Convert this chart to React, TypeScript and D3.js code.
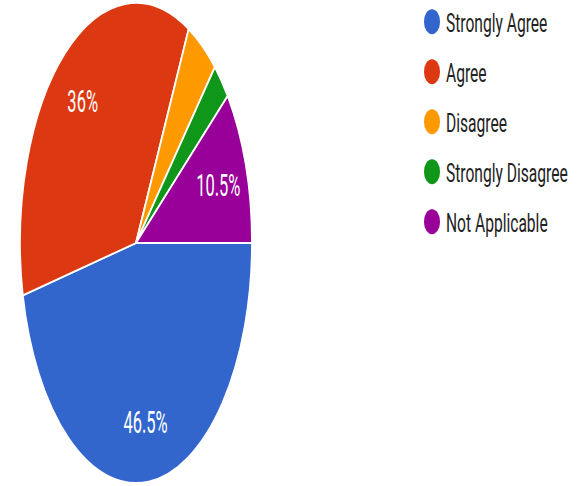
import React, { useEffect, useRef } from 'react';
import * as d3 from 'd3';

const categories = ['Strongly Agree', 'Agree', 'Disagree', 'Strongly Disagree', 'Not Applicable'];
const values = [46.5, 36, 4.4, 2.6, 10.5];
const sliceLabels = ['46.5%', '36%', '', '', '10.5%'];
const colors = ['#3366cc', '#dc3912', '#ff9900', '#109618', '#990099'];

const width = 578;
const height = 486;

export default function App() {
  const svgRef = useRef<SVGSVGElement | null>(null);

  useEffect(() => {
    if (!svgRef.current) return;
    const svg = d3.select(svgRef.current);
    svg.selectAll('*').remove();

    // the picture is stretched vertically, so the pie is drawn as a circle and scaled
    const cx = 136;
    const cy = 243;
    const r = 116;
    const sy = 240 / r;

    const data = categories.map((c, i) => ({ name: c, value: values[i], label: sliceLabels[i] }));
    const pie = d3
      .pie<{ name: string; value: number; label: string }>()
      .sort(null)
      .value((d) => d.value)
      .startAngle(Math.PI / 2)
      .endAngle(Math.PI / 2 + Math.PI * 2);
    const arcs = pie(data);
    const arc = d3.arc<d3.PieArcDatum<any>>().innerRadius(0).outerRadius(r);
    const labelArc = d3.arc<d3.PieArcDatum<any>>().innerRadius(r * 0.75).outerRadius(r * 0.75);

    const g = svg.append('g').attr('transform', `translate(${cx},${cy}) scale(1,${sy})`);
    g.selectAll('path')
      .data(arcs)
      .enter()
      .append('path')
      .attr('d', arc as any)
      .attr('fill', (_, i) => colors[i])
      .attr('stroke', '#fff')
      .attr('stroke-width', 1.8)
      .attr('vector-effect', 'non-scaling-stroke');

    // slice labels
    arcs.forEach((a) => {
      if (!a.data.label) return;
      const [x, y] = labelArc.centroid(a);
      svg
        .append('g')
        .attr('transform', `translate(${cx + x},${cy + y * sy}) scale(1,1.88)`)
        .append('text')
        .attr('text-anchor', 'middle')
        .attr('dy', '0.35em')
        .attr('fill', '#fff')
        .style('font-family', 'Roboto, sans-serif')
        .style('font-size', '16.5px')
        .text(a.data.label);
    });

    // legend
    const legendY = d3.scalePoint<string>().domain(categories).range([21.7, 221.7]);
    const legend = svg
      .append('g')
      .selectAll('g')
      .data(categories)
      .enter()
      .append('g')
      .attr('transform', (d) => `translate(0,${legendY(d)})`);
    legend
      .append('ellipse')
      .attr('cx', 432)
      .attr('cy', 0)
      .attr('rx', 8)
      .attr('ry', 12.5)
      .attr('fill', (_, i) => colors[i]);
    legend
      .append('g')
      .attr('transform', 'translate(446,0) scale(1,1.6)')
      .append('text')
      .attr('y', 6.25)
      .attr('fill', '#222')
      .style('font-family', 'Roboto, sans-serif')
      .style('font-size', '15.6px')
      .text((d) => d);
  }, []);

  return (
    <svg
      ref={svgRef}
      width={width}
      height={height}
      style={{ position: 'absolute', left: 0, top: 0, background: '#fff' }}
    />
  );
}
